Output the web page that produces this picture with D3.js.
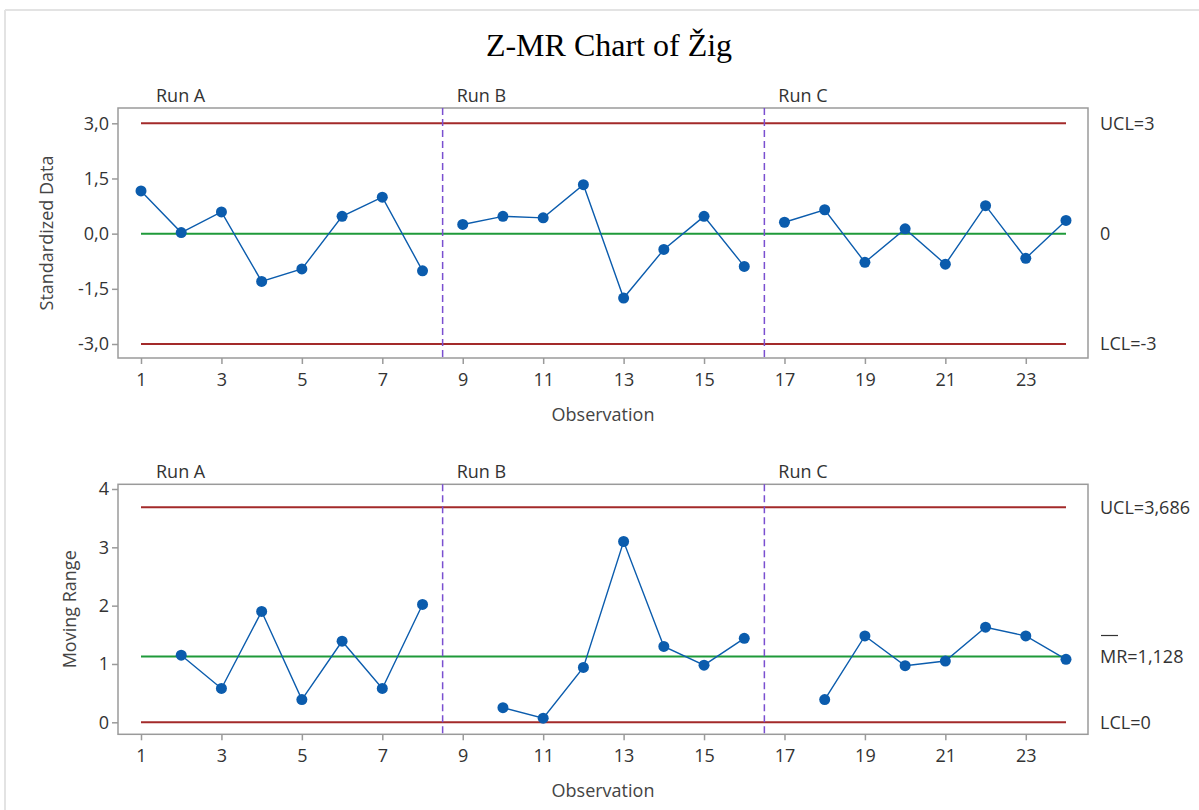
<!DOCTYPE html>
<html>
<head>
<meta charset="utf-8">
<script src="https://cdn.jsdelivr.net/npm/d3@7"></script>
<style>
  body { margin: 0; background: #fff; }
  svg { display: block; }
  text { font-family: "Open Sans", "Noto Sans", sans-serif; }
</style>
</head>
<body>
<div id="chart"></div>
<script>
(function(){

// Data
let observations = [1, 2, 3, 4, 5, 6, 7, 8, 9, 10, 11, 12, 13, 14, 15, 16, 17, 18, 19, 20, 21, 22, 23, 24]
let zValues = [1.16, 0.03, 0.59, -1.30, -0.96, 0.47, 0.99, -1.01,
               0.25, 0.47, 0.43, 1.33, -1.75, -0.43, 0.47, -0.89,
               0.31, 0.65, -0.78, 0.13, -0.83, 0.76, -0.67, 0.36]
let mrValues = [null, 1.15, 0.58, 1.90, 0.39, 1.39, 0.58, 2.02,
                null, 0.25, 0.07, 0.94, 3.10, 1.30, 0.98, 1.44,
                null, 0.39, 1.48, 0.97, 1.05, 1.63, 1.48, 1.08]
let runNames = ['Run A', 'Run B', 'Run C']
let runStarts = [1, 9, 17]
let runEnds = [8, 16, 24]
let xTicks = [1, 3, 5, 7, 9, 11, 13, 15, 17, 19, 21, 23]
let zTicks = [-3, -1.5, 0, 1.5, 3]
let mrTicks = [0, 1, 2, 3, 4]
let zLimits = [3, 0, -3]             // UCL, CL, LCL
let zLimitLabels = ['UCL=3', '0', 'LCL=-3']
let mrLimits = [3.686, 1.128, 0]
let mrLimitLabels = ['UCL=3,686', 'MR=1,128', 'LCL=0']

let width = 1199
let height = 810
let fontSize = '18px'

let svg = d3.select('#chart').append('svg')
  .attr('width', width)
  .attr('height', height)

// page border
svg.append('line').attr('x1', 5).attr('x2', 5).attr('y1', 10).attr('y2', height)
  .attr('stroke', '#e3e3e3').attr('stroke-width', 2)
svg.append('line').attr('x1', 5).attr('x2', width).attr('y1', 10).attr('y2', 10)
  .attr('stroke', '#e3e3e3').attr('stroke-width', 2)

svg.append('text')
  .attr('x', 609).attr('y', 56)
  .attr('text-anchor', 'middle')
  .style('font-family', '"Liberation Serif", "Times New Roman", serif')
  .style('font-size', '32px')
  .attr('fill', '#000')
  .text('Z-MR Chart of Žig')

let locale = d3.formatLocale({ decimal: ',', thousands: '.', grouping: [3], currency: ['', ''], minus: '-' })

let xScale = d3.scaleLinear().domain([1, 24]).range([141, 1066])
let frameLeft = 118, frameRight = 1088

let colors = { limit: '#a32a2a', center: '#1f9a3a', data: '#0b5cad', split: '#7a4fd0', frame: '#9a9a9a', text: '#333' }

function drawPanel(opts) {
  let y = opts.yScale
  let g = svg.append('g')

  // frame
  g.append('rect')
    .attr('x', frameLeft).attr('y', opts.top)
    .attr('width', frameRight - frameLeft).attr('height', opts.bottom - opts.top)
    .attr('fill', 'none').attr('stroke', colors.frame).attr('stroke-width', 1.5)

  // axes
  let yAxis = g.append('g')
    .attr('transform', 'translate(' + frameLeft + ',0)')
    .call(d3.axisLeft(y).tickValues(opts.ticks).tickFormat(opts.format).tickSize(6).tickSizeOuter(0).tickPadding(3))
  let xAxis = g.append('g')
    .attr('transform', 'translate(0,' + opts.bottom + ')')
    .call(d3.axisBottom(xScale).tickValues(xTicks).tickFormat(d3.format('d')).tickSize(6).tickSizeOuter(0).tickPadding(9))
  ;[xAxis, yAxis].forEach(function(a) {
    a.select('.domain').remove()
    a.selectAll('.tick line').attr('stroke', colors.frame).attr('stroke-width', 1.5)
    a.selectAll('.tick text')
      .style('font-family', '"Open Sans", sans-serif')
      .style('font-size', fontSize)
      .attr('fill', colors.text)
  })

  g.append('text')
    .attr('x', 603).attr('y', opts.bottom + 63)
    .attr('text-anchor', 'middle')
    .style('font-size', fontSize).attr('fill', '#444')
    .text('Observation')

  g.append('text')
    .attr('transform', 'translate(' + opts.yLabelX + ',' + (opts.top + opts.bottom) / 2 + ') rotate(-90)')
    .attr('text-anchor', 'middle')
    .style('font-size', fontSize).attr('fill', '#444')
    .text(opts.yLabel)

  // control limits
  opts.limits.forEach(function(v, i) {
    g.append('line')
      .attr('x1', xScale(1)).attr('x2', xScale(24))
      .attr('y1', y(v)).attr('y2', y(v))
      .attr('stroke', i === 1 ? colors.center : colors.limit)
      .attr('stroke-width', 2)
    g.append('text')
      .attr('x', 1100).attr('y', y(v))
      .attr('dy', '0.35em')
      .style('font-size', fontSize).attr('fill', colors.text)
      .text(opts.limitLabels[i])
  })

  // phase dividers and labels
  runNames.forEach(function(name, i) {
    if (i > 0) {
      g.append('line')
        .attr('x1', xScale(runStarts[i] - 0.5)).attr('x2', xScale(runStarts[i] - 0.5))
        .attr('y1', opts.top).attr('y2', opts.bottom)
        .attr('stroke', colors.split).attr('stroke-width', 1.5)
        .attr('stroke-dasharray', '7,4')
    }
    let lx = i === 0 ? xScale(runStarts[i]) + 15 : xScale(runStarts[i] - 0.5) + 14
    g.append('text')
      .attr('x', lx).attr('y', opts.top - 6)
      .style('font-size', fontSize).attr('fill', colors.text)
      .text(name)
  })

  // data per phase
  let points = observations.map(function(o, i) { return { obs: o, value: opts.values[i] } })
  let line = d3.line()
    .defined(function(d) { return d.value !== null })
    .x(function(d) { return xScale(d.obs) })
    .y(function(d) { return y(d.value) })

  runNames.forEach(function(name, i) {
    let seg = points.filter(function(d) { return d.obs >= runStarts[i] && d.obs <= runEnds[i] })
    g.append('path')
      .datum(seg)
      .attr('d', line)
      .attr('fill', 'none')
      .attr('stroke', colors.data)
      .attr('stroke-width', 1.4)
  })

  g.selectAll('circle')
    .data(points.filter(function(d) { return d.value !== null }))
    .enter().append('circle')
    .attr('cx', function(d) { return xScale(d.obs) })
    .attr('cy', function(d) { return y(d.value) })
    .attr('r', 5.5)
    .attr('fill', colors.data)

  return g
}

// Chart 1: standardized data
let zScale = d3.scaleLinear().domain([-3, 3]).range([344, 123.3])
drawPanel({
  top: 108, bottom: 358, yScale: zScale, ticks: zTicks,
  format: locale.format('.1f'), values: zValues,
  limits: zLimits, limitLabels: zLimitLabels,
  yLabel: 'Standardized Data', yLabelX: 53
})

// Chart 2: moving range
let mrScale = d3.scaleLinear().domain([0, 4]).range([722.3, 489])
let gMr = drawPanel({
  top: 484.3, bottom: 734.3, yScale: mrScale, ticks: mrTicks,
  format: locale.format('d'), values: mrValues,
  limits: mrLimits, limitLabels: mrLimitLabels,
  yLabel: 'Moving Range', yLabelX: 76
})

// bar over MR
gMr.append('line')
  .attr('x1', 1101).attr('x2', 1118)
  .attr('y1', mrScale(1.128) - 21).attr('y2', mrScale(1.128) - 21)
  .attr('stroke', colors.text).attr('stroke-width', 1.2)

})()
</script>
</body>
</html>
